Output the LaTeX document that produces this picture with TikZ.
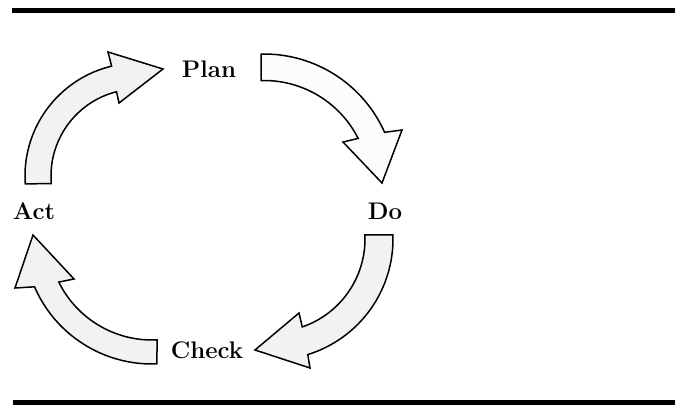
\documentclass[tikz,border=0pt]{standalone}
\usetikzlibrary{calc}
\begin{document}
\begin{tikzpicture}[x=1pt,y=1pt,
  lbl/.style={font=\fontsize{24}{28}\selectfont\bfseries, inner sep=0pt},
  blockarrow/.style={draw=black, line width=1.5pt, line join=miter, fill=black!5},
  rulebar/.style={fill=black}]
\useasboundingbox (0,0) rectangle (675,407);
% rules
\fill[rulebar] (12,394) rectangle (675,399);
\fill[rulebar] (13,2) rectangle (675,7);
% labels
\node[lbl] (plan) at (209,338) {Plan};
\node[lbl] (do) at (385,196) {Do};
\node[lbl] (check) at (207,57) {Check};
\node[lbl] (act) at (34,196) {Act};
% arc centres
\coordinate (c1) at (138,231);
\coordinate (c2) at (264,221);
\coordinate (c3) at (272,168);
\coordinate (c4) at (152,171);
% Act -> Plan
\draw[blockarrow] ($(c1)+(184:113)$) arc[start angle=184,end angle=103.5,radius=113]
  -- (108,355) -- (163,338) -- (119,304)
  -- ($(c1)+(104.3:87)$) arc[start angle=104.3,end angle=185,radius=87] -- cycle;
% Plan -> Do
\draw[blockarrow, fill=black!1] ($(c2)+(91.3:132)$) arc[start angle=91.3,end angle=24,radius=132]
  -- (402,277) -- (382,224) -- (343,265)
  -- ($(c2)+(26.8:105.5)$) arc[start angle=26.8,end angle=91.6,radius=105.5] -- cycle;
% Do -> Check
\draw[blockarrow] ($(c3)+(1.9:121)$) arc[start angle=1.9,end angle=-72.8,radius=121]
  -- (310,39) -- (255,57) -- (299,94)
  -- ($(c3)+(-71:93)$) arc[start angle=-71,end angle=2.5,radius=93] -- cycle;
% Check -> Act
\draw[blockarrow] ($(c4)+(-87.8:128)$) arc[start angle=-87.8,end angle=-156.6,radius=128]
  -- (15,119) -- (33,172) -- (74,128)
  -- ($(c4)+(-153.7:104)$) arc[start angle=-153.7,end angle=-87.2,radius=104] -- cycle;
\end{tikzpicture}
\end{document}
